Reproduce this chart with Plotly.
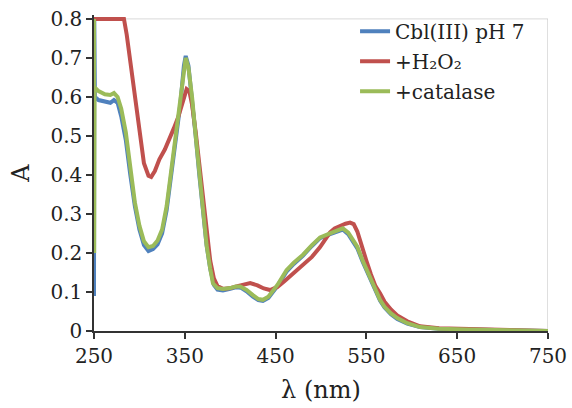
import plotly.graph_objects as go

# Absorbance spectra of Cbl(III) at pH 7, after H2O2 and after catalase
wl_cbl = [250, 250.3, 251, 255, 262, 268, 272, 276, 280, 285, 290, 295, 300, 305, 310, 315,
          320, 325, 330, 335, 340, 345, 349, 351, 354, 358, 362, 366, 370, 374, 378, 382,
          386, 392, 400, 406, 412, 418, 425, 431, 436, 442, 452, 462, 470, 480, 490, 499,
          510, 518, 524, 530, 535, 540, 546, 550, 555, 560, 565, 570, 577, 584, 595, 609,
          630, 660, 700, 750]
abs_cbl = [0.09, 0.80, 0.60, 0.592, 0.588, 0.585, 0.592, 0.585, 0.55, 0.49, 0.40, 0.32, 0.26,
           0.22, 0.205, 0.21, 0.222, 0.25, 0.31, 0.40, 0.49, 0.58, 0.68, 0.705, 0.68, 0.60,
           0.50, 0.40, 0.30, 0.22, 0.16, 0.118, 0.106, 0.104, 0.108, 0.112, 0.111, 0.102, 0.088,
           0.079, 0.077, 0.085, 0.115, 0.152, 0.172, 0.193, 0.218, 0.238, 0.248, 0.255, 0.26,
           0.248, 0.232, 0.212, 0.177, 0.157, 0.127, 0.102, 0.078, 0.06, 0.043, 0.031, 0.019,
           0.01, 0.006, 0.004, 0.002, 0.0]

wl_h2o2 = [250, 283, 286, 290, 295, 300, 305, 310, 313, 317, 322, 328, 333, 338, 343, 348,
           352, 355, 358, 362, 366, 370, 374, 378, 382, 386, 392, 400, 408, 415, 422, 430,
           437, 444, 452, 460, 470, 480, 490, 499, 505, 510, 515, 520, 527, 532, 536, 540,
           545, 550, 555, 560, 565, 570, 577, 584, 595, 609, 630, 660, 700, 750]
abs_h2o2 = [0.80, 0.80, 0.76, 0.69, 0.59, 0.50, 0.43, 0.398, 0.395, 0.41, 0.44, 0.465, 0.49,
            0.52, 0.55, 0.59, 0.62, 0.615, 0.58, 0.51, 0.43, 0.35, 0.26, 0.18, 0.135, 0.115,
            0.108, 0.11, 0.115, 0.12, 0.123, 0.117, 0.109, 0.105, 0.113, 0.128, 0.148, 0.17,
            0.19, 0.215, 0.238, 0.253, 0.263, 0.269, 0.275, 0.278, 0.274, 0.255, 0.215, 0.18,
            0.145, 0.115, 0.097, 0.075, 0.055, 0.04, 0.025, 0.012, 0.007, 0.005, 0.003, 0.0]

wl_cat = [250, 250.2, 250.6, 255, 262, 268, 272, 276, 280, 285, 290, 295, 300, 305, 310, 315,
          320, 325, 330, 335, 340, 345, 349, 351, 354, 358, 362, 366, 370, 374, 378, 381,
          386, 392, 400, 406, 411, 418, 425, 431, 436, 442, 452, 462, 470, 480, 490, 499,
          510, 518, 524, 530, 535, 540, 546, 550, 555, 560, 565, 570, 577, 584, 595, 609,
          630, 660, 700, 750]
abs_cat = [0.80, 0.20, 0.625, 0.615, 0.607, 0.605, 0.61, 0.60, 0.57, 0.51, 0.42, 0.33, 0.27,
           0.23, 0.215, 0.218, 0.232, 0.26, 0.32, 0.41, 0.50, 0.58, 0.67, 0.70, 0.675, 0.60,
           0.50, 0.40, 0.30, 0.22, 0.16, 0.122, 0.11, 0.108, 0.11, 0.114, 0.114, 0.105, 0.092,
           0.082, 0.08, 0.088, 0.118, 0.156, 0.175, 0.195, 0.22, 0.24, 0.25, 0.257, 0.263,
           0.252, 0.236, 0.216, 0.18, 0.16, 0.13, 0.105, 0.08, 0.062, 0.045, 0.033, 0.02,
           0.01, 0.006, 0.004, 0.002, 0.0]

x_ticks = [250, 350, 450, 550, 650, 750]
y_ticks = [0, 0.1, 0.2, 0.3, 0.4, 0.5, 0.6, 0.7, 0.8]

font_family = "DejaVu Serif"

fig = go.Figure()
series = [
    ("Cbl(III) pH 7", wl_cbl, abs_cbl, "#4F81BD"),
    ("+H₂O₂", wl_h2o2, abs_h2o2, "#C0504D"),
    ("+catalase", wl_cat, abs_cat, "#9BBB59"),
]
for name, xs, ys, color in series:
    fig.add_trace(go.Scatter(x=xs, y=ys, mode="lines", name=name, legendgroup=name,
                             line=dict(color=color, width=4)))

# light frame on the top and right of the plot area
fig.add_shape(type="line", x0=250, x1=750, y0=0.8, y1=0.8,
              line=dict(color="#D9D9D9", width=1), layer="below")
fig.add_shape(type="line", x0=750, x1=750, y0=0, y1=0.8,
              line=dict(color="#BFBFBF", width=1), layer="below")

fig.update_layout(
    width=572, height=408,
    margin=dict(l=94, r=24, t=15, b=77, autoexpand=False),
    paper_bgcolor="white", plot_bgcolor="white",
    font=dict(family=font_family, size=20, color="#222222"),
    showlegend=True,
    legend=dict(x=0.575, y=1.01, xanchor="left", yanchor="top",
                bgcolor="rgba(0,0,0,0)", font=dict(size=20),
                tracegroupgap=1),
    xaxis=dict(range=[250, 750], tickvals=x_ticks, ticks="outside", ticklen=6,
               tickwidth=1.5, tickcolor="#333333", showline=True, linecolor="#333333",
               linewidth=1.5, showgrid=False, zeroline=False, automargin=False,
               title=dict(text="λ (nm)", standoff=14)),
    yaxis=dict(range=[0, 0.81], tickvals=y_ticks, ticks="outside", ticklen=6,
               tickwidth=1.5, tickcolor="#333333", showline=True, linecolor="#333333",
               linewidth=1.5, showgrid=False, zeroline=False, automargin=False,
               title=dict(text="A", standoff=14)),
)

fig.write_html("out.html")
